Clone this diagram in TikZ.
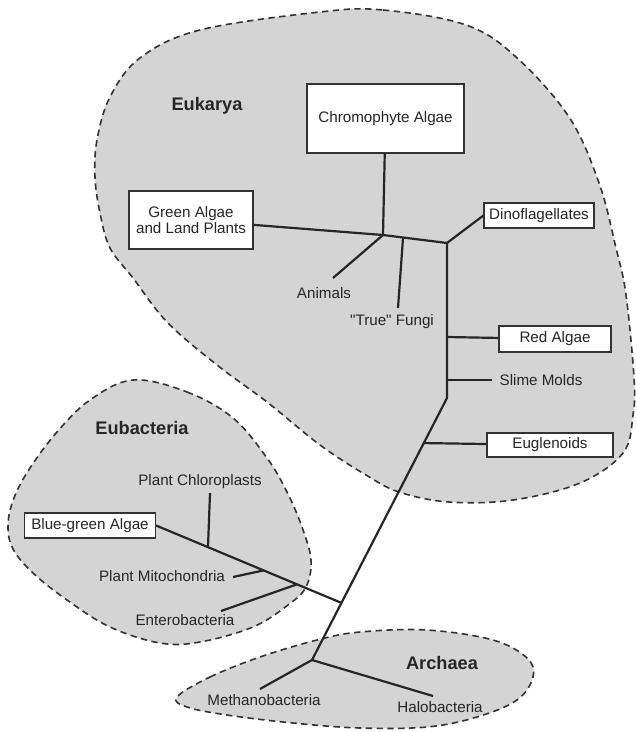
\documentclass[tikz,border=0pt]{standalone}
\usepackage{fontspec}
\setmainfont{Liberation Sans}
\usetikzlibrary{shapes,calc}

\begin{document}
\begin{tikzpicture}[x=0.5pt,y=-0.5pt]
	\tikzstyle{realm}=[draw=black!80, fill=black!17, dash pattern=on 3.2pt off 2.2pt, line width=0.8pt]
	\tikzstyle{every node}=[font=\fontsize{7.6}{8.4}\selectfont, text=black!85]
	\tikzstyle{taxon}=[rectangle, draw=black!80, fill=white, line width=0.6pt, inner sep=1pt, align=center]
	\tikzstyle{kingdom}=[font=\fontsize{9.1}{10}\selectfont\bfseries]
	\tikzstyle{branch}=[draw=black!85, line width=1.1pt]
	\useasboundingbox (0,0) rectangle (636,732);

	\draw[realm] plot[smooth cycle, tension=0.6] coordinates {(320,12) (383,10) (466,25) (516,57) (569,117) (599,183) (616,248) (626,295) (634,378) (633,415) (623,453) (580,483) (513,500) (449,502) (399,492) (366,475) (320,445) (267,402) (217,365) (167,322) (133,278) (110,248) (100,213) (95,177) (97,140) (110,97) (140,58) (200,30)};
	\draw[realm] plot[smooth cycle, tension=0.6] coordinates {(133,380) (187,392) (233,418) (267,458) (287,492) (302,527) (311,560) (306,587) (288,605) (253,627) (200,642) (160,643) (110,627) (67,600) (33,573) (13,549) (8,525) (14,498) (30,468) (57,432) (90,400)};
	\draw[realm] plot[smooth cycle, tension=0.6] coordinates {(177,697) (210,677) (260,657) (317,640) (360,632) (427,630) (493,640) (527,658) (533,677) (517,700) (477,717) (427,727) (360,728) (293,723) (227,715) (187,707)};

	\node[kingdom] (eukarya) at (207,106) {Eukarya};
	\node[kingdom] (eubacteria) at (142,428) {Eubacteria};
	\node[kingdom] (archaea) at (442,663) {Archaea};

	\node[taxon, minimum width=78.5pt, minimum height=34.5pt] (chromo) at (385.5,118.5) {Chromophyte Algae};
	\node[taxon, minimum width=62pt, minimum height=29pt] (green) at (191,220) {Green Algae\\and Land Plants};
	\node[taxon, minimum width=55pt, minimum height=12.5pt] (dino) at (539,215.5) {Dinoflagellates};
	\node[taxon, minimum width=56pt, minimum height=13pt] (red) at (555,339) {Red Algae};
	\node[taxon, minimum width=63pt, minimum height=12pt] (eugl) at (550,445) {Euglenoids};
	\node[taxon, minimum width=65.5pt, minimum height=12.5pt] (bga) at (90,525.5) {Blue-green Algae};

	\node (animals) at (324,293) {Animals};
	\node (fungi) at (392,322) {\textquotedbl True\textquotedbl{} Fungi};
	\node (slime) at (541,380) {Slime Molds};
	\node (chloro) at (200,482) {Plant Chloroplasts};
	\node (mito) at (162,576) {Plant Mitochondria};
	\node (entero) at (185,620) {Enterobacteria};
	\node (methano) at (264,700) {Methanobacteria};
	\node (halo) at (440,707) {Halobacteria};

	\coordinate (j1) at (383,235);
	\coordinate (j2) at (447,243);
	\coordinate (jf) at (403,238);
	\coordinate (kink) at (447,398);
	\coordinate (root) at (312,660);
	\coordinate (je) at ($(kink)!0.172!(root)$);
	\coordinate (e0) at ($(kink)!0.782!(root)$);
	\coordinate (jr) at (447,337);
	\coordinate (js) at (447,380);
	\coordinate (jc) at ($(bga.east)!0.28!(e0)$);
	\coordinate (jm) at ($(bga.east)!0.58!(e0)$);
	\coordinate (jn) at ($(bga.east)!0.76!(e0)$);
	\coordinate (tipa) at (333,278);
	\coordinate (tipf) at (398,308);
	\coordinate (tips) at (492,380);
	\coordinate (tipc) at (210,493);
	\coordinate (tipm) at (233,577);
	\coordinate (tipn) at (221,611);
	\coordinate (tipme) at (260,689);
	\coordinate (tiph) at (433,696);

	\draw[branch] (green) -- (j1) -- (j2) -- (kink) -- (root);
	\draw[branch] (chromo) -- (j1) -- (tipa);
	\draw[branch] (jf) -- (tipf);
	\draw[branch] (j2) -- (dino.west);
	\draw[branch] (jr) -- (red);
	\draw[branch] (js) -- (tips);
	\draw[branch] (je) -- (eugl);
	\draw[branch] (bga.east) -- (e0);
	\draw[branch] (jc) -- (tipc);
	\draw[branch] (jm) -- (tipm);
	\draw[branch] (jn) -- (tipn);
	\draw[branch] (tipme) -- (root) -- (tiph);
\end{tikzpicture}
\end{document}
